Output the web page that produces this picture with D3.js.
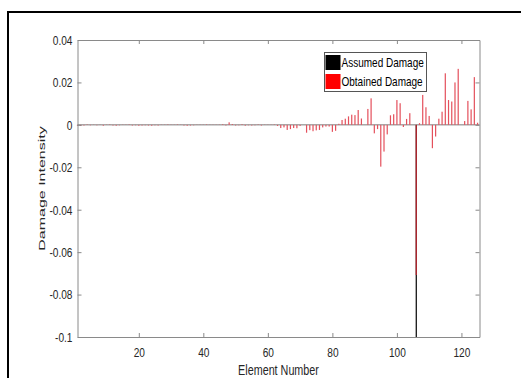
<!DOCTYPE html>
<html>
<head>
<meta charset="utf-8">
<script src="https://cdn.jsdelivr.net/npm/d3@7"></script>
<style>
  body { margin: 0; background: #fff; }
  svg { display: block; }
  text { font-family: 'Liberation Sans', Arial, sans-serif; }
</style>
</head>
<body>
<svg id="chart"></svg>
<script>
const width = 521
const height = 378

// element numbers 1..125
const elements = d3.range(1, 126)

// obtained damage, element 1..125
const obtained = [
  -0.0004, -0.0005, -0.0003, 0.0002, -0.0002, 0.0001, -0.0002, 0.0001, -0.0004, 0.0001,
  0.0002, -0.0003, -0.0004, -0.0002, 0.0001, 0.0001, 0.0002, -0.0003, -0.0002, -0.0004,
  -0.0003, -0.0002, -0.0003, -0.0004, -0.0002, -0.0003, 0.0001, 0.0001, 0.0002, 0.0001,
  0.0001, 0.0002, 0.0001, -0.0003, -0.0004, -0.0003, -0.0002, 0.0001, 0.0001, 0.0001,
  0.0002, 0.0001, 0.0001, 0.0001, 0.0001, 0.0003, -0.0003, 0.0012, 0.0004, -0.0003,
  -0.0002, 0.0003, -0.0004, -0.0002, -0.0003, -0.0002, 0.0002, -0.0003, 0.0001, 0.0001,
  0.0001, 0.0002, -0.0005, -0.0015, -0.0012, -0.0024, -0.0020, -0.0015, -0.0016, -0.0005,
  0.0000, -0.0037, -0.0025, -0.0030, -0.0026, -0.0024, -0.0012, -0.0008, -0.0008, -0.0033,
  -0.0028, 0.0005, 0.0023, 0.0029, 0.0040, 0.0048, 0.0046, 0.0070, 0.0030, 0.0000,
  0.0075, 0.0125, -0.0040, -0.0020, -0.0197, -0.0126, -0.0045, 0.0045, 0.0050, 0.0117,
  0.0102, -0.0010, 0.0028, 0.0055, 0.0000, -0.0708, 0.0008, 0.0141, 0.0083, 0.0042,
  -0.0110, -0.0055, 0.0029, 0.0062, 0.0243, 0.0117, 0.0110, 0.0200, 0.0264, 0.0000,
  0.0018, 0.0113, 0.0073, 0.0225, 0.0010
]

// assumed damage: only element 106
const assumed = elements.map(e => e === 106 ? -0.1 : 0)

const xTicks = [20, 40, 60, 80, 100, 120]
const yTicks = [-0.1, -0.08, -0.06, -0.04, -0.02, 0, 0.02, 0.04]
const legendLabels = ['Assumed Damage', 'Obtained Damage']
const legendColors = ['#000000', '#ff0000']

// the picture is squeezed horizontally, so text is narrowed
const tickNarrow = 0.75
const legendNarrow = 0.77

const svg = d3.select('#chart')
    .attr('width', width)
    .attr('height', height)

svg.append('rect')
    .attr('width', width).attr('height', height)
    .attr('fill', '#fff')

// figure frame (cut by the image edge on right and bottom)
svg.append('rect')
    .attr('x', 8).attr('y', 12)
    .attr('width', 600).attr('height', 500)
    .attr('fill', 'none')
    .attr('stroke', '#000')
    .attr('stroke-width', 2)

const margin = {left: 77.5, right: 479.5, top: 40, bottom: 337}

const x = d3.scaleLinear()
    .domain([1, 125.6])
    .range([margin.left, margin.right])
const y = d3.scaleLinear()
    .domain([-0.1, 0.04])
    .range([margin.bottom, margin.top])

const axisColor = '#8a8a8a'
const labelColor = '#262626'

// bars
const barW = 1.2
svg.append('g')
    .selectAll('rect')
    .data(elements.filter((e, i) => assumed[i] !== 0))
    .join('rect')
      .attr('x', d => x(d) - barW / 2)
      .attr('y', d => y(0))
      .attr('width', barW)
      .attr('height', d => y(assumed[d - 1]) - y(0))
      .attr('fill', '#000')

// zero baseline
svg.append('line')
    .attr('x1', margin.left).attr('x2', margin.right)
    .attr('y1', y(0)).attr('y2', y(0))
    .attr('stroke', '#7a7a7a')
    .attr('stroke-width', 1)

svg.append('g')
    .selectAll('rect')
    .data(elements)
    .join('rect')
      .attr('x', d => x(d) - barW / 2)
      .attr('y', d => y(Math.max(0, obtained[d - 1])))
      .attr('width', barW)
      .attr('height', d => Math.abs(y(obtained[d - 1]) - y(0)))
      .attr('fill', d => d === 106 ? '#c0262f' : '#e4505c')

// axes with inward ticks on all four sides
const fmtY = d => d === 0 ? '0' : d3.format('.2~f')(d).replace('\u2212', '-')

const gx = svg.append('g')
    .attr('transform', `translate(0, ${margin.bottom})`)
    .call(d3.axisBottom(x).tickValues(xTicks).tickSize(-4).tickPadding(10).tickSizeOuter(0))
const gxTop = svg.append('g')
    .attr('transform', `translate(0, ${margin.top})`)
    .call(d3.axisTop(x).tickValues(xTicks).tickSize(-4).tickFormat('').tickSizeOuter(0))
const gy = svg.append('g')
    .attr('transform', `translate(${margin.left}, 0)`)
    .call(d3.axisLeft(y).tickValues(yTicks).tickFormat(fmtY).tickSize(-4).tickPadding(5).tickSizeOuter(0))
const gyRight = svg.append('g')
    .attr('transform', `translate(${margin.right}, 0)`)
    .call(d3.axisRight(y).tickValues(yTicks).tickFormat('').tickSize(-4).tickSizeOuter(0))

for (const g of [gx, gxTop, gy, gyRight]) {
    g.select('.domain').attr('stroke', axisColor)
    g.selectAll('.tick line').attr('stroke', axisColor)
    g.selectAll('.tick text')
        .attr('fill', labelColor)
        .style('font-size', '13.5px')
        .each(function () {
            const t = d3.select(this)
            t.attr('x', (+t.attr('x') || 0) / tickNarrow)
             .attr('transform', `scale(${tickNarrow},1)`)
        })
}

// axis titles
svg.append('text')
    .attr('transform', `translate(${(margin.left + margin.right) / 2}, 374.5) scale(0.77,1)`)
    .attr('text-anchor', 'middle')
    .attr('fill', labelColor)
    .style('font-size', '14px')
    .text('Element Number')
svg.append('text')
    .attr('transform', `translate(44.8, ${(margin.top + margin.bottom) / 2}) rotate(-90) scale(1,0.6)`)
    .attr('text-anchor', 'middle')
    .attr('fill', labelColor)
    .style('font-size', '16px')
    .text('Damage Intensity')

// legend
const legend = svg.append('g').attr('transform', 'translate(324.5, 52.5)')
legend.append('rect')
    .attr('width', 102).attr('height', 39)
    .attr('fill', '#fff')
    .attr('stroke', '#555')
    .attr('stroke-width', 1)
legendLabels.forEach((label, i) => {
    legend.append('rect')
        .attr('x', 1).attr('y', 2.5 + i * 19)
        .attr('width', 15).attr('height', 15)
        .attr('fill', legendColors[i])
    legend.append('text')
        .attr('transform', `translate(17, ${10 + i * 19}) scale(${legendNarrow},1)`)
        .attr('dy', '0.35em')
        .attr('fill', '#000')
        .style('font-size', '13px')
        .text(label)
})
</script>
</body>
</html>
